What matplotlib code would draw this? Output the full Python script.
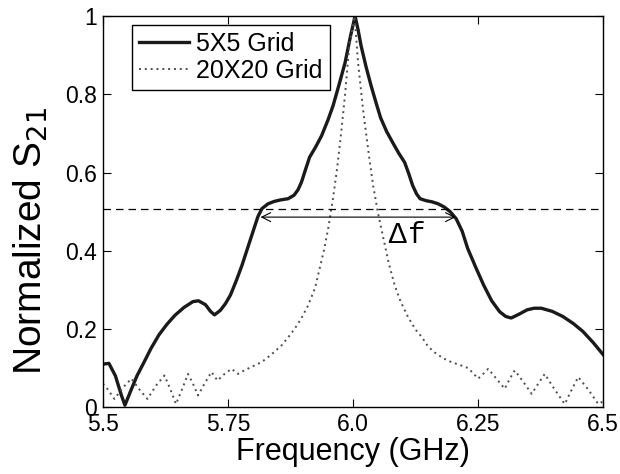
import matplotlib

matplotlib.use("Agg")
import matplotlib.pyplot as plt

# 5X5 grid response (solid)
freq_5x5 = [
    5.500, 5.512, 5.525, 5.537, 5.544, 5.555, 5.568, 5.581, 5.596, 5.612,
    5.628, 5.644, 5.662, 5.680, 5.691, 5.705, 5.715, 5.723, 5.735, 5.745,
    5.755, 5.767, 5.778, 5.790, 5.802, 5.810, 5.818, 5.830, 5.842, 5.855,
    5.870, 5.882, 5.890, 5.897, 5.905, 5.913, 5.925, 5.937, 5.950, 5.960,
    5.972, 5.984, 5.995, 6.004, 6.010, 6.016, 6.026, 6.036, 6.046, 6.055,
    6.067, 6.079, 6.091, 6.103, 6.111, 6.119, 6.127, 6.134, 6.146, 6.158,
    6.170, 6.182, 6.194, 6.206, 6.218, 6.229, 6.245, 6.261, 6.277, 6.293,
    6.305, 6.316, 6.332, 6.348, 6.362, 6.376, 6.398, 6.419, 6.440, 6.459,
    6.480, 6.500,
]
s21_5x5 = [
    0.110, 0.112, 0.080, 0.030, 0.005, 0.040, 0.080, 0.112, 0.150, 0.185,
    0.212, 0.235, 0.255, 0.270, 0.272, 0.262, 0.245, 0.236, 0.248, 0.265,
    0.287, 0.325, 0.363, 0.410, 0.457, 0.488, 0.508, 0.520, 0.526, 0.530,
    0.533, 0.542, 0.556, 0.576, 0.608, 0.639, 0.665, 0.694, 0.735, 0.771,
    0.825, 0.881, 0.950, 1.000, 0.965, 0.924, 0.870, 0.822, 0.778, 0.740,
    0.705, 0.677, 0.650, 0.626, 0.598, 0.567, 0.545, 0.533, 0.528, 0.525,
    0.520, 0.512, 0.500, 0.482, 0.450, 0.406, 0.358, 0.312, 0.272, 0.244,
    0.232, 0.228, 0.238, 0.249, 0.253, 0.253, 0.245, 0.232, 0.214, 0.194,
    0.165, 0.134,
]

# 20X20 grid response (dotted)
freq_20x20 = [
    5.500, 5.510, 5.523, 5.540, 5.557, 5.573, 5.589, 5.606, 5.623, 5.635,
    5.646, 5.658, 5.670, 5.680, 5.690, 5.703, 5.717, 5.729, 5.743, 5.757,
    5.770, 5.784, 5.797, 5.817, 5.837, 5.857, 5.870, 5.883, 5.897, 5.910,
    5.924, 5.941, 5.950, 5.960, 5.968, 5.976, 5.984, 5.992, 6.003, 6.010,
    6.020, 6.030, 6.040, 6.050, 6.060, 6.071, 6.083, 6.095, 6.110, 6.125,
    6.137, 6.150, 6.163, 6.180, 6.197, 6.213, 6.230, 6.250, 6.260, 6.270,
    6.287, 6.303, 6.313, 6.323, 6.340, 6.357, 6.370, 6.383, 6.403, 6.423,
    6.437, 6.450, 6.470, 6.490, 6.500,
]
s21_20x20 = [
    0.060, 0.045, 0.021, 0.050, 0.073, 0.045, 0.021, 0.055, 0.081, 0.045,
    0.008, 0.045, 0.085, 0.060, 0.030, 0.060, 0.090, 0.068, 0.085, 0.098,
    0.085, 0.095, 0.103, 0.115, 0.135, 0.158, 0.178, 0.200, 0.228, 0.260,
    0.305, 0.397, 0.455, 0.535, 0.610, 0.700, 0.800, 0.920, 1.000, 0.880,
    0.760, 0.660, 0.567, 0.495, 0.435, 0.370, 0.312, 0.270, 0.230, 0.198,
    0.180, 0.155, 0.140, 0.125, 0.115, 0.108, 0.100, 0.073, 0.085, 0.098,
    0.072, 0.047, 0.072, 0.094, 0.065, 0.034, 0.060, 0.085, 0.045, 0.008,
    0.045, 0.077, 0.045, 0.008, 0.015,
]

half_level = 0.506
bw_level = 0.486
bw_edges = [5.815, 6.205]

x_ticks = [5.5, 5.75, 6.0, 6.25, 6.5]
x_tick_labels = ["5.5", "5.75", "6.0", "6.25", "6.5"]
y_ticks = [0, 0.2, 0.4, 0.6, 0.8, 1.0]
y_tick_labels = ["0", "0.2", "0.4", "0.6", "0.8", "1"]

plt.rcParams["font.family"] = ["Liberation Sans", "DejaVu Sans"]

fig = plt.figure(figsize=(6.2, 4.74), dpi=100)
ax = fig.add_axes([0.166, 0.141, 0.807, 0.825])

ax.plot(freq_5x5, s21_5x5, color="#1a1a1a", lw=2.4, label="5X5 Grid")
ax.plot(freq_20x20, s21_20x20, color="#4d4d4d", lw=1.4, ls=(0, (1, 2.0)),
        label="20X20 Grid")
ax.axhline(half_level, color="black", lw=0.9, ls=(0, (6, 4)))
ax.annotate("", xy=(bw_edges[0], bw_level), xytext=(bw_edges[1], bw_level),
            arrowprops=dict(arrowstyle="<->", color="black", lw=0.8,
                            shrinkA=0, shrinkB=0, mutation_scale=16))
ax.text(6.068, 0.42, "\u0394", fontsize=21, ha="left", va="baseline")
ax.text(6.109, 0.42, "f", fontsize=21, ha="left", va="baseline",
        family=["Liberation Mono", "DejaVu Sans Mono"])

ax.set_xlim(5.5, 6.5)
ax.set_ylim(0, 1)
ax.set_xticks(x_ticks)
ax.set_xticklabels(x_tick_labels)
ax.set_yticks(y_ticks)
ax.set_yticklabels(y_tick_labels)
ax.tick_params(direction="in", top=True, right=True, labelsize=16.5, length=6,
               width=0.8, pad=4)
for spine in ax.spines.values():
    spine.set_linewidth(1.0)

ax.set_xlabel("Frequency (GHz)", fontsize=22, labelpad=1)
ax.set_ylabel("Normalized S$_{21}$", fontsize=28)
ax.yaxis.set_label_coords(-0.105, 0.425)

leg = ax.legend(loc="upper left", bbox_to_anchor=(0.058, 0.978), fontsize=18,
                fancybox=False, framealpha=1, edgecolor="black",
                handlelength=2.0, borderpad=0.3, labelspacing=0.1,
                handletextpad=0.25, borderaxespad=0)
leg.get_frame().set_linewidth(1.0)

fig.savefig("out.png", dpi=100)
